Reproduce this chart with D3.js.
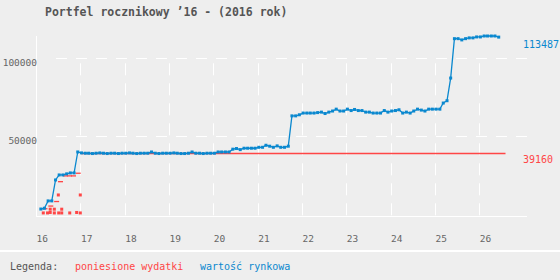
<!DOCTYPE html>
<html><head><meta charset="utf-8">
<script src="https://cdn.jsdelivr.net/npm/d3@7"></script>
<style>
html,body{margin:0;padding:0;background:#eeeeee;}
svg{display:block;}
text{font-family:"DejaVu Sans Mono",monospace;}
</style></head>
<body>
<script>
const titleText = "Portfel rocznikowy ’16 - (2016 rok)";
const yearTicks = ["2016","2017","2018","2019","2020","2021","2022","2023","2024","2025","2026"];
const yTicks = [50000, 100000];
const marketStart = "2016-02-10";
const marketValues = [
 3500,4000,8700,8700,22100,25300,25300,26000,26600,26600,40000,39400,
 39200,39200,39000,39200,39400,39200,39000,39200,39200,39000,39200,39200,
 39400,39200,39000,39200,39200,39200,40000,39200,39000,39200,39200,39200,
 39400,39200,39000,39000,39200,40000,39200,39200,39000,39200,39200,39200,
 40000,40000,40000,40000,41800,42200,41500,42400,42400,42400,42400,43000,
 43000,44300,43700,43000,43900,43000,43000,43700,63100,63100,63800,64900,
 64900,64900,64900,65200,65500,64600,65500,66200,67400,66200,66200,67400,
 66500,67200,66500,66500,65500,65500,64900,64900,64900,66500,65500,66200,
 66500,67000,64900,65500,64900,66200,67400,66800,66200,67400,67400,67400,
 67400,71300,72800,87300,112500,112500,111700,112500,113000,113000,113600,113600,
 114200,114200,114200,114200,113487
];
const purchaseDates = ["2016-03-01","2016-04-05","2016-04-27","2016-04-27","2016-05-31","2016-05-31","2016-07-03","2016-07-06","2016-07-31","2016-07-31","2016-10-05","2016-12-01","2016-12-31","2016-12-31"];
const purchaseValues = [1000,1000,1300,3400,3400,1000,12500,1000,1000,3400,1000,1300,12500,1000];
const costDates = ["2016-03-15","2016-05-02","2016-06-19","2016-07-21","2016-08-31","2016-10-03","2016-11-05","2016-12-14"];
const costValues = [3700,5400,8300,21000,24700,24700,24700,26400];
const costTotal = 39160;
const costLineStart = "2017-01-05";
const costLineEnd = "2026-08-05";
const legendLabels = ["Legenda:", "poniesione wydatki", "wartość rynkowa"];

const W = 560, H = 280;
const BLUE = "#0a88cf", RED = "#ff4646", GRAY = "#666";
const parse = d3.utcParse("%Y-%m-%d");
const yr = s => d3.utcParse("%Y")(s);

const svg = d3.select("body").append("svg").attr("width", W).attr("height", H);
svg.append("rect").attr("width", W).attr("height", H).attr("fill", "#eeeeee");

const x = d3.scaleUtc().domain([yr("2016"), yr("2026")]).range([36, 479.3]);
const y = d3.scaleLinear().domain([0, d3.max(marketValues)]).range([214.5, 36]);

const start = parse(marketStart);
const market = marketValues.map((v, i) => ({d: d3.utcMonth.offset(start, i), v}));

// title
svg.append("text").attr("x", 45).attr("y", 16).attr("fill", "#555")
  .attr("font-size", "11.5px").attr("font-weight", "bold").text(titleText);

// gridlines
const g = svg.append("g");
g.selectAll("line.h").data(yTicks).join("line")
  .attr("x1", 56).attr("x2", 527)
  .attr("y1", d => Math.round(y(d)) + 0.5).attr("y2", d => Math.round(y(d)) + 0.5)
  .attr("stroke", "#fff").attr("stroke-dasharray", "11,9");
g.selectAll("line.v").data(yearTicks.slice(1)).join("line")
  .attr("x1", d => Math.round(x(yr(d))) + 0.5).attr("x2", d => Math.round(x(yr(d))) + 0.5)
  .attr("y1", 63.3).attr("y2", 216)
  .attr("stroke", "#fff").attr("stroke-dasharray", "12,8");
// axes lines
g.append("line").attr("x1", 36.5).attr("x2", 36.5).attr("y1", 36).attr("y2", 216.5).attr("stroke", "#fff");
g.append("line").attr("x1", 36).attr("x2", 527).attr("y1", 216.5).attr("y2", 216.5).attr("stroke", "#fff");

// y labels
const yAxis = d3.axisLeft(y).tickValues(yTicks).tickSize(0).tickFormat(d3.format("d"));
const ya = svg.append("g").attr("transform", "translate(37,0)").call(yAxis);
ya.select(".domain").remove();
ya.selectAll("text").attr("x", 0).attr("dy", "7.6px").attr("fill", GRAY)
  .attr("font-size", "9.5px").attr("font-family", "DejaVu Sans Mono");

// x labels
const xAxis = d3.axisBottom(x).tickValues(yearTicks.map(yr)).tickSize(0).tickFormat(d3.utcFormat("%y"));
const xa = svg.append("g").attr("transform", "translate(0,234)").call(xAxis);
xa.select(".domain").remove();
xa.selectAll("text").attr("text-anchor", "start").attr("y", 8).attr("dy", 0).attr("fill", GRAY)
  .attr("font-size", "9.5px").attr("font-family", "DejaVu Sans Mono");

// red cost line (total)
svg.append("path")
  .datum([{d: parse(costLineStart), v: costTotal}, {d: parse(costLineEnd), v: costTotal}])
  .attr("d", d3.line().x(d => x(d.d)).y(d => Math.round(y(d.v)) + 0.5))
  .attr("stroke", RED).attr("stroke-width", 1.3).attr("fill", "none");
// red cumulative dashes
svg.selectAll("line.cost").data(costDates.map((d, i) => ({d: parse(d), v: costValues[i]}))).join("line")
  .attr("x1", d => x(d.d) - 2.5).attr("x2", d => x(d.d) + 2.5)
  .attr("y1", d => y(d.v)).attr("y2", d => y(d.v))
  .attr("stroke", RED).attr("stroke-width", 1.3);

// blue market line
svg.append("path").datum(market)
  .attr("d", d3.line().x(d => x(d.d)).y(d => y(d.v)))
  .attr("stroke", BLUE).attr("stroke-width", 1.3).attr("fill", "none");
svg.selectAll("rect.m").data(market).join("rect")
  .attr("x", d => x(d.d) - 1.5).attr("y", d => y(d.v) - 1.5)
  .attr("width", 3).attr("height", 3).attr("fill", BLUE);

// red purchases
svg.selectAll("rect.p").data(purchaseDates.map((d, i) => ({d: parse(d), v: purchaseValues[i]}))).join("rect")
  .attr("x", d => x(d.d) - 1.5).attr("y", d => y(d.v) - 1.5)
  .attr("width", 3).attr("height", 3).attr("fill", RED);

// right labels
const last = marketValues[marketValues.length - 1];
svg.append("text").attr("x", 523).attr("y", y(last) + 10.8).attr("fill", BLUE)
  .attr("font-size", "10px").text(d3.format("d")(last));
svg.append("text").attr("x", 523).attr("y", y(costTotal) + 9.8).attr("fill", RED)
  .attr("font-size", "10px").text(d3.format("d")(costTotal));

// legend
svg.append("rect").attr("x", 0).attr("y", 250).attr("width", W).attr("height", 2).attr("fill", "#fff");
svg.append("text").attr("x", 10).attr("y", 270).attr("fill", "#555").attr("font-size", "10px").text(legendLabels[0]);
svg.append("text").attr("x", 75).attr("y", 270).attr("fill", RED).attr("font-size", "10px").text(legendLabels[1]);
svg.append("text").attr("x", 200).attr("y", 270).attr("fill", BLUE).attr("font-size", "10px").text(legendLabels[2]);
</script>
</body></html>
